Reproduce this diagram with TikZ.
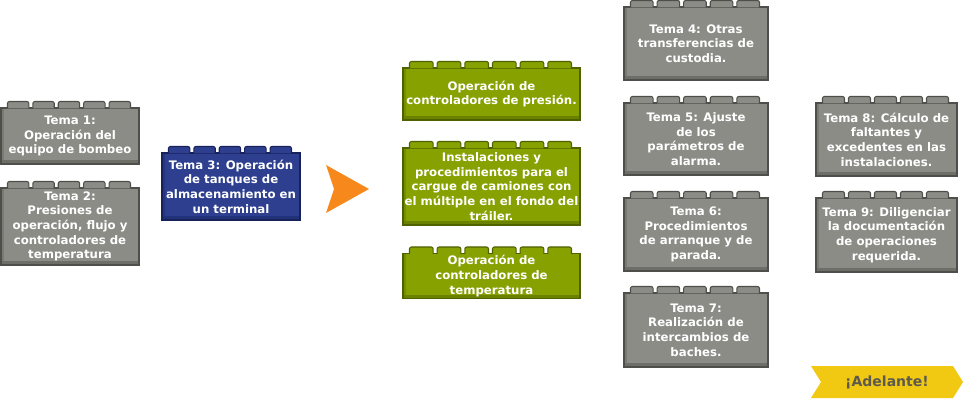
\documentclass[tikz,border=0pt]{standalone}
\usepackage{fontspec}
\setmainfont{DejaVu Sans}
\usepackage{tikz}
\usetikzlibrary{shapes.symbols}
\definecolor{graybody}{HTML}{8C8C87}
\definecolor{grayline}{HTML}{4E4E4A}
\definecolor{grayshade}{HTML}{6E6E69}
\definecolor{bluebody}{HTML}{2D3F8E}
\definecolor{blueline}{HTML}{18225A}
\definecolor{blueshade}{HTML}{22327A}
\definecolor{greenbody}{HTML}{86A100}
\definecolor{greenline}{HTML}{4E6200}
\definecolor{greenshade}{HTML}{6A8200}
\definecolor{arroworange}{HTML}{F7891C}
\definecolor{goyellow}{HTML}{F1C812}
\definecolor{gotext}{HTML}{5C5A4E}
\tikzset{bevel/.style={path picture={
    \fill[#1] (path picture bounding box.south west) rectangle ([yshift=3pt]path picture bounding box.south east);
    \fill[#1, opacity=0.6] (path picture bounding box.south west) rectangle ([xshift=2pt]path picture bounding box.north west);}}}
\tikzstyle{brick} = [rectangle, inner sep=0pt, align=center, text=white, line width=0.8pt, font=\bfseries\fontsize{8.8}{11}\selectfont]
\tikzstyle{graybrick} = [brick, fill=graybody, draw=grayline, bevel=grayshade]
\tikzstyle{bluebrick} = [brick, fill=bluebody, draw=blueline, bevel=blueshade]
\tikzstyle{greenbrick} = [brick, fill=greenbody, draw=greenline, bevel=greenshade, minimum width=132.75pt]
\tikzstyle{graystud} = [fill=graybody, draw=grayline, line width=0.8pt]
\tikzstyle{bluestud} = [fill=bluebody, draw=blueline, line width=0.8pt]
\tikzstyle{greenstud} = [fill=greenbody, draw=greenline, line width=0.8pt]
% studs on top of a brick: node, count, width (px), style
\newcommand{\brickstuds}[4]{%
  \pgfmathsetmacro{\studw}{((#3-15)-(#2-1)*4)/#2*0.75}
  \foreach \k in {1,...,#2}{
    \pgfmathsetmacro{\studx}{(7+(\k-1)*(((#3-15)-(#2-1)*4)/#2+4))*0.75}
    \draw[#4, rounded corners=1.5pt] ([xshift=\studx pt, yshift=-0.7pt]#1.north west) -- ++(0pt,5.2pt) -- ++(\studw pt,0pt) -- ++(0pt,-5.2pt);
  }}

\begin{document}
\begin{tikzpicture}[x=0.75pt, y=-0.75pt]
    \useasboundingbox (0,0) rectangle (964,400);

    % first column
    \node (t1) [graybrick, minimum width=103.5pt, minimum height=42pt] at (70,136) {Tema 1:\\Operación del\\equipo de bombeo};
    \node (t2) [graybrick, minimum width=103.5pt, minimum height=57.75pt] at (70,226.5) {Tema 2:\\Presiones de\\operación, flujo y\\controladores de\\temperatura};
    \node (t3) [bluebrick, minimum width=103.5pt, minimum height=50.25pt] at (231,186.5) {Tema 3: Operación\\de tanques de\\almacenamiento en\\un terminal};

    % arrow
    \fill[arroworange] (326,165) -- (369,189) -- (326,213) -- (334,189) -- cycle;

    % green bricks
    \node (g1) [greenbrick, minimum height=39pt] at (491.5,94) {Operación de\\controladores de presión.};
    \node (g2) [greenbrick, minimum height=57.75pt] at (491.5,186.5) {Instalaciones y\\procedimientos para el\\cargue de camiones con\\el múltiple en el fondo del\\tráiler.};
    \node (g3) [greenbrick, minimum height=33.75pt] at (491.5,276) {Operación de\\controladores de\\temperatura};

    % temas 4 to 9
    \node (t4) [graybrick, minimum width=108pt, minimum height=54.75pt] at (696,43.5) {Tema 4: Otras\\transferencias de\\custodia.};
    \node (t5) [graybrick, minimum width=108pt, minimum height=54pt] at (696,139) {Tema 5: Ajuste\\de los\\parámetros de\\alarma.};
    \node (t6) [graybrick, minimum width=108pt, minimum height=54.75pt] at (696,234.5) {Tema 6:\\Procedimientos\\de arranque y de\\parada.};
    \node (t7) [graybrick, minimum width=108pt, minimum height=55.5pt] at (696,330) {Tema 7:\\Realización de\\intercambios de\\baches.};
    \node (t8) [graybrick, minimum width=105.75pt, minimum height=54.75pt] at (886.5,139.5) {Tema 8: Cálculo de\\faltantes y\\excedentes en las\\instalaciones.};
    \node (t9) [graybrick, minimum width=105.75pt, minimum height=55.5pt] at (886.5,235) {Tema 9: Diligenciar\\la documentación\\de operaciones\\requerida.};

    \brickstuds{t1}{5}{138}{graystud}
    \brickstuds{t2}{5}{138}{graystud}
    \brickstuds{t3}{5}{138}{bluestud}
    \brickstuds{g1}{6}{177}{greenstud}
    \brickstuds{g2}{6}{177}{greenstud}
    \brickstuds{g3}{6}{177}{greenstud}
    \brickstuds{t4}{5}{144}{graystud}
    \brickstuds{t5}{5}{144}{graystud}
    \brickstuds{t6}{5}{144}{graystud}
    \brickstuds{t7}{5}{144}{graystud}
    \brickstuds{t8}{5}{141}{graystud}
    \brickstuds{t9}{5}{141}{graystud}

    \node (go) [signal, signal to=east, signal from=west, signal pointer angle=116, fill=goyellow, minimum width=114pt, minimum height=24pt, inner sep=0pt, text=gotext, font=\bfseries\fontsize{10.5}{12}\selectfont] at (887,382) {¡Adelante!};
\end{tikzpicture}
\end{document}
